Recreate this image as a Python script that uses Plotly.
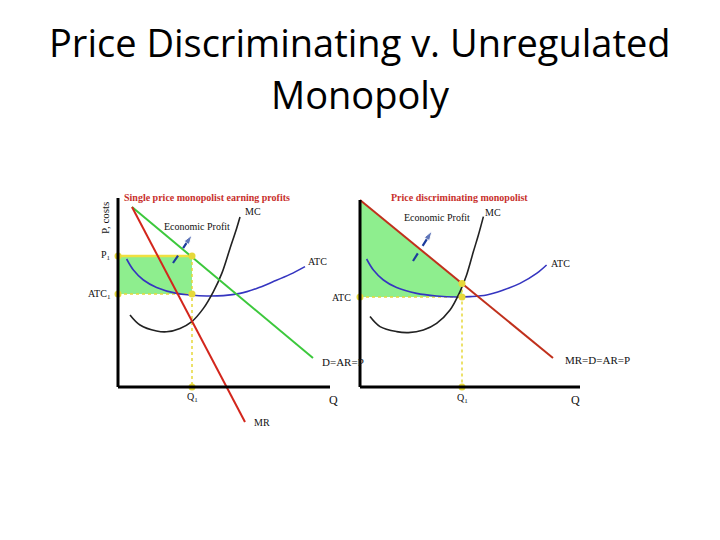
import plotly.graph_objects as go

# ---------------- data (left: single-price monopolist) ----------------
L_demand_q = [0.7, 9.75]
L_demand_p = [9.0, 1.45]
L_mr_q = [0.7, 6.35]
L_mr_p = [9.0, -1.75]
L_mc_q = [0.6, 1.1, 1.93, 2.43, 3.1, 3.69, 4.27, 4.77, 5.19, 5.6, 5.93, 6.1]
L_mc_p = [3.6, 3.1, 2.8, 2.76, 2.93, 3.27, 3.93, 4.77, 5.68, 6.93, 7.93, 8.5]
L_atc_q = [0.43, 0.77, 1.27, 1.93, 2.93, 3.6, 4.43, 5.27, 6.1, 6.93, 7.77, 8.6, 9.35]
L_atc_p = [6.4, 5.85, 5.35, 4.98, 4.68, 4.6, 4.55, 4.57, 4.68, 4.93, 5.27, 5.63, 6.02]
L_Q1 = 3.7
L_P1 = 6.55
L_ATC1 = 4.65
L_arrow_q = [2.75, 3.7]
L_arrow_p = [6.2, 7.6]

# ---------------- data (right: price discriminating monopolist) -------
R_demand_q = [0.0, 9.65]
R_demand_p = [9.35, 1.45]
R_mc_q = [0.5, 1.0, 1.83, 2.42, 3.17, 3.83, 4.5, 5.0, 5.33, 5.67, 5.92, 6.17]
R_mc_p = [3.52, 3.02, 2.77, 2.72, 2.85, 3.18, 3.85, 4.77, 5.6, 6.77, 7.6, 8.52]
R_atc_q = [0.33, 0.67, 1.17, 1.83, 2.83, 3.83, 4.83, 5.5, 6.33, 7.17, 8.0, 8.83, 9.33]
R_atc_p = [6.4, 5.85, 5.35, 4.97, 4.68, 4.55, 4.5, 4.52, 4.6, 4.85, 5.18, 5.68, 6.1]
R_Q1 = 5.1
R_P1 = 5.18
R_ATC = 4.5
R_arrow_q = [2.65, 3.6]
R_arrow_p = [6.3, 7.8]

# axis extents
L_axis_len_q = 10.6
L_axis_len_p = 9.45
R_axis_len_q = 11.0
R_axis_len_p = 9.35

TITLE_LINES = ["Price Discriminating v. Unregulated", "Monopoly"]

GREEN = "#3cc83c"
FILL = "#8eee8e"
RED_L = "#d3261c"
RED_R = "#c0301c"
BLUE = "#3535c0"
YEL = "#f0e040"
YELD = "#e6d83a"
ARROW = "#1c3c9c"
SERIF = "Liberation Serif"

# page body margin compensation
OFF = 8
W, H = 720 - OFF, 540 - OFF

fig = go.Figure()

def add(tr, panel):
    if panel == 2:
        tr.update(xaxis="x2", yaxis="y2")
    fig.add_trace(tr)

# ---------- left panel ----------
add(go.Scatter(x=[0, L_Q1, L_Q1, 0], y=[L_ATC1, L_ATC1, L_P1, L_P1], fill="toself",
               fillcolor=FILL, line=dict(width=0), mode="lines"), 1)
add(go.Scatter(x=[0, L_Q1], y=[L_P1, L_P1], mode="lines", line=dict(color=YEL, width=2.5)), 1)
add(go.Scatter(x=[0, L_Q1], y=[L_ATC1, L_ATC1], mode="lines", line=dict(color=YELD, width=1.5, dash="dot")), 1)
add(go.Scatter(x=[L_Q1, L_Q1], y=[L_P1, 0], mode="lines", line=dict(color=YELD, width=1.5, dash="dot")), 1)
add(go.Scatter(x=L_atc_q, y=L_atc_p, mode="lines", line=dict(color=BLUE, width=1.6, shape="spline")), 1)
add(go.Scatter(x=L_mc_q, y=L_mc_p, mode="lines", line=dict(color="#222222", width=1.6, shape="spline")), 1)
add(go.Scatter(x=L_demand_q, y=L_demand_p, mode="lines", line=dict(color=GREEN, width=2)), 1)
add(go.Scatter(x=L_mr_q, y=L_mr_p, mode="lines", line=dict(color=RED_L, width=2)), 1)
add(go.Scatter(x=[0, L_Q1, 0, L_Q1, L_Q1], y=[L_P1, L_P1, L_ATC1, L_ATC1, 0], mode="markers",
               marker=dict(color=YELD, size=7)), 1)
add(go.Scatter(x=L_arrow_q, y=L_arrow_p, mode="lines+markers",
               line=dict(color=ARROW, width=2.2, dash="dash"),
               marker=dict(symbol=["circle", "arrow"], size=[0, 10], angleref="previous", color=ARROW)), 1)

# ---------- right panel ----------
add(go.Scatter(x=[0, R_Q1, R_Q1, 0], y=[R_demand_p[0], R_P1, R_ATC, R_ATC], fill="toself",
               fillcolor=FILL, line=dict(width=0), mode="lines"), 2)
add(go.Scatter(x=[0, R_Q1], y=[R_ATC, R_ATC], mode="lines", line=dict(color=YELD, width=1.5, dash="dot")), 2)
add(go.Scatter(x=[R_Q1, R_Q1], y=[R_P1, 0], mode="lines", line=dict(color=YELD, width=1.5, dash="dot")), 2)
add(go.Scatter(x=R_atc_q, y=R_atc_p, mode="lines", line=dict(color=BLUE, width=1.6, shape="spline")), 2)
add(go.Scatter(x=R_mc_q, y=R_mc_p, mode="lines", line=dict(color="#222222", width=1.6, shape="spline")), 2)
add(go.Scatter(x=R_demand_q, y=R_demand_p, mode="lines", line=dict(color=RED_R, width=2)), 2)
add(go.Scatter(x=[0, R_Q1, R_Q1, R_Q1], y=[R_ATC, R_P1, R_ATC, 0], mode="markers",
               marker=dict(color=YELD, size=7)), 2)
add(go.Scatter(x=R_arrow_q, y=R_arrow_p, mode="lines+markers",
               line=dict(color=ARROW, width=2.2, dash="dash"),
               marker=dict(symbol=["circle", "arrow"], size=[0, 10], angleref="previous", color=ARROW)), 2)

# axis lines
for xr, yr, lq, lp in [("x", "y", L_axis_len_q, L_axis_len_p), ("x2", "y2", R_axis_len_q, R_axis_len_p)]:
    fig.add_shape(type="line", xref=xr, yref=yr, x0=0, y0=0, x1=0, y1=lp, line=dict(color="black", width=3))
    fig.add_shape(type="line", xref=xr, yref=yr, x0=0, y0=0, x1=lq, y1=0, line=dict(color="black", width=3))

def lab(text, x, y, panel, size=10, xanchor="center", color="#111111", angle=0, bold=False, family=SERIF):
    xr, yr = ("x", "y") if panel == 1 else ("x2", "y2")
    if bold:
        text = "<b>" + text + "</b>"
    fig.add_annotation(text=text, x=x, y=y, xref=xr, yref=yr, showarrow=False, xanchor=xanchor,
                       yanchor="middle", textangle=angle,
                       font=dict(family=family, size=size, color=color))

# left labels
lab("Single price monopolist earning profits", 0.2, 9.45, 1, size=10, xanchor="left", color="#c8302c", bold=True)
lab("P, costs", -0.65, 8.45, 1, size=11, angle=-90)
lab("P<sub>1</sub>", -0.25, L_P1, 1, xanchor="right")
lab("ATC<sub>1</sub>", -0.25, L_ATC1, 1, xanchor="right")
lab("Q<sub>1</sub>", L_Q1, -0.5, 1)
lab("Q", 10.75, -0.65, 1, size=12)
lab("MC", 6.75, 8.75, 1)
lab("ATC", 9.95, 6.25, 1)
lab("D=AR=P", 10.1, 1.25, 1, size=11, xanchor="left")
lab("MR", 7.2, -1.75, 1)
lab("Economic Profit", 3.95, 8.0, 1)

# right labels
lab("Price discriminating monopolist", 4.97, 9.45, 2, size=10, color="#c8302c", bold=True)
lab("P, costs", -0.75, 8.45, 2, size=11, angle=-90)
lab("ATC", -0.35, R_ATC, 2, xanchor="right")
lab("Q<sub>1</sub>", R_Q1, -0.55, 2)
lab("Q", 10.75, -0.65, 2, size=12)
lab("MC", 6.65, 8.7, 2)
lab("ATC", 10.0, 6.15, 2)
lab("MR=D=AR=P", 10.15, 1.35, 2, size=11, xanchor="left")
lab("Economic Profit", 3.85, 8.45, 2)

# slide title
for txt, ypx in zip(TITLE_LINES, [42, 94]):
    fig.add_annotation(text=txt, x=(360 - OFF) / W, y=1 - (ypx - OFF) / H, xref="paper", yref="paper",
                       showarrow=False, xanchor="center", yanchor="middle",
                       font=dict(family="Open Sans", size=38, color="black"))

def dom_x(a, b):
    return [(a - OFF) / W, (b - OFF) / W]

def dom_y(top, bottom):
    return [1 - (bottom - OFF) / H, 1 - (top - OFF) / H]

ydom = dom_y(190, 432)
fig.update_layout(
    width=W, height=H, margin=dict(l=0, r=0, t=0, b=0),
    paper_bgcolor="white", plot_bgcolor="rgba(0,0,0,0)", showlegend=False,
    xaxis=dict(domain=dom_x(88, 348), range=[-1.5, 11.5], visible=False),
    yaxis=dict(domain=ydom, range=[-2.25, 9.85], visible=False),
    xaxis2=dict(domain=dom_x(348, 640), range=[-0.6, 14.0], visible=False),
    yaxis2=dict(domain=ydom, range=[-2.25, 9.85], visible=False, anchor="x2"),
)
fig.write_html("out.html")
